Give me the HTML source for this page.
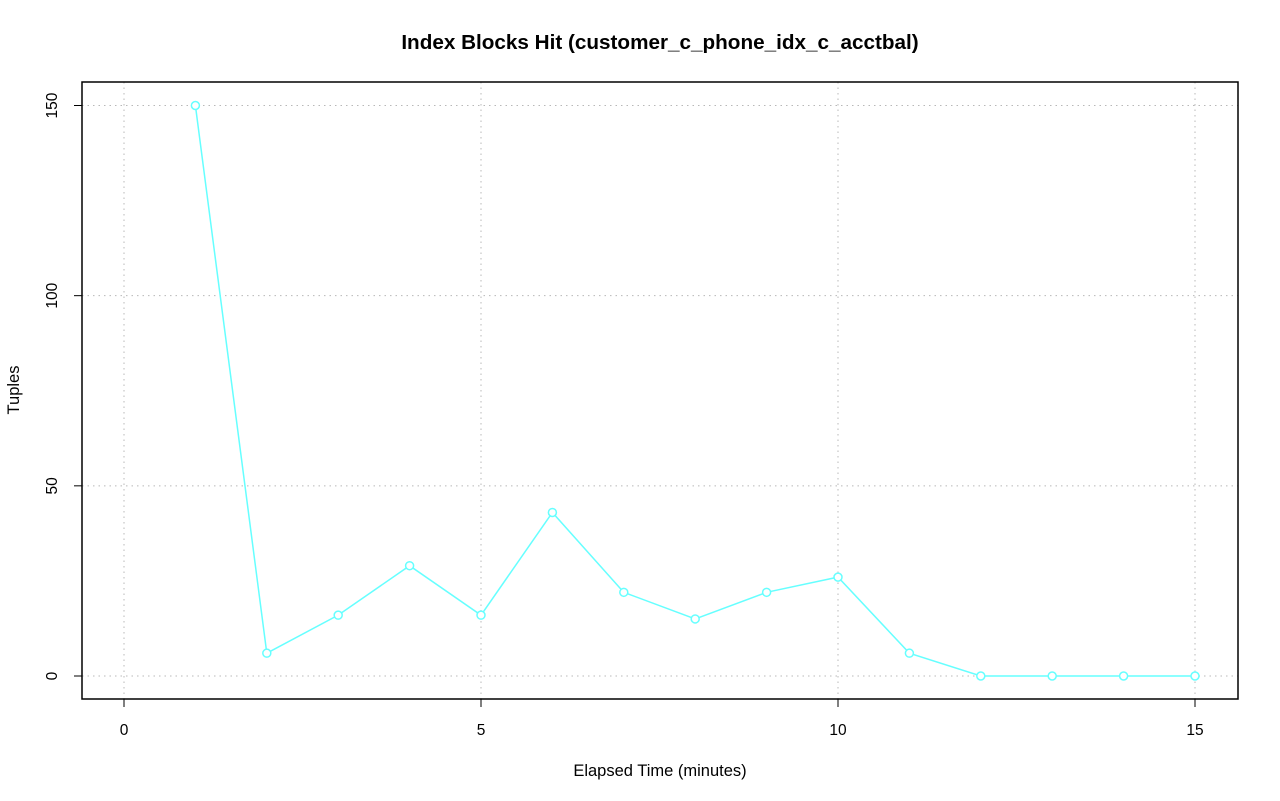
<!DOCTYPE html>
<html><head><meta charset="utf-8"><style>
html,body{margin:0;padding:0;background:#fff;}
svg{display:block;font-family:"Liberation Sans",sans-serif;}
</style></head><body>
<svg id="chart" width="1280" height="801" viewBox="0 0 1280 801">
<text x="660" y="49" text-anchor="middle" font-size="20.7" font-weight="bold">Index Blocks Hit (customer_c_phone_idx_c_acctbal)</text>
<text x="660" y="776" text-anchor="middle" font-size="16.5">Elapsed Time (minutes)</text>
<text transform="translate(19,390) rotate(-90)" text-anchor="middle" font-size="16.5">Tuples</text>
<g id="grid"></g>
<g id="axes"></g>
<g id="series"></g>
<rect x="82" y="82" width="1156" height="617" fill="none" stroke="#000" stroke-width="1.5"/>
</svg>
<script>
const xValues = [1,2,3,4,5,6,7,8,9,10,11,12,13,14,15];
const yValues = [150,6,16,29,16,43,22,15,22,26,6,0,0,0,0];
const xTicks = [0,5,10,15];
const yTicks = [0,50,100,150];

const NS = "http://www.w3.org/2000/svg";
function X(v){ return 124 + v * (1195 - 124) / 15; }
function Y(v){ return 676 - v * (676 - 105.5) / 150; }
function mk(tag, attrs, parent){
  const e = document.createElementNS(NS, tag);
  for (const k in attrs) e.setAttribute(k, attrs[k]);
  parent.appendChild(e);
  return e;
}
const grid = document.getElementById('grid');
const axes = document.getElementById('axes');
const series = document.getElementById('series');

xTicks.forEach(t => {
  const g = mk('line', {x1:X(t), x2:X(t), y1:82, y2:699, stroke:'#b8b8b8', 'stroke-dasharray':'1.5,4'}, grid);
  
  
  const tk = mk('line', {x1:X(t), x2:X(t), y1:699, y2:707, stroke:'#000'}, axes);
  
  
  const lb = mk('text', {x:X(t), y:735, 'text-anchor':'middle', 'font-size':'15.5'}, axes);
  lb.textContent = t;
  
  
});
yTicks.forEach(t => {
  const g = mk('line', {x1:82, x2:1238, y1:Y(t), y2:Y(t), stroke:'#b8b8b8', 'stroke-dasharray':'1.5,4'}, grid);
  
  
  const tk = mk('line', {x1:74, x2:82, y1:Y(t), y2:Y(t), stroke:'#000'}, axes);
  
  
  const lb = mk('text', {transform:'translate(57,'+Y(t)+') rotate(-90)', 'text-anchor':'middle', 'font-size':'15.5'}, axes);
  lb.textContent = t;
  
  
});

const pts = xValues.map((x,i) => X(x) + ',' + Y(yValues[i])).join(' ');
const line = mk('polyline', {points:pts, fill:'none', stroke:'#66ffff', 'stroke-width':'1.5'}, series);


xValues.forEach((x,i) => {
  const c = mk('circle', {cx:X(x), cy:Y(yValues[i]), r:4, fill:'#fff', stroke:'#66ffff', 'stroke-width':'1.5'}, series);
  
  
});
</script>
</body></html>
